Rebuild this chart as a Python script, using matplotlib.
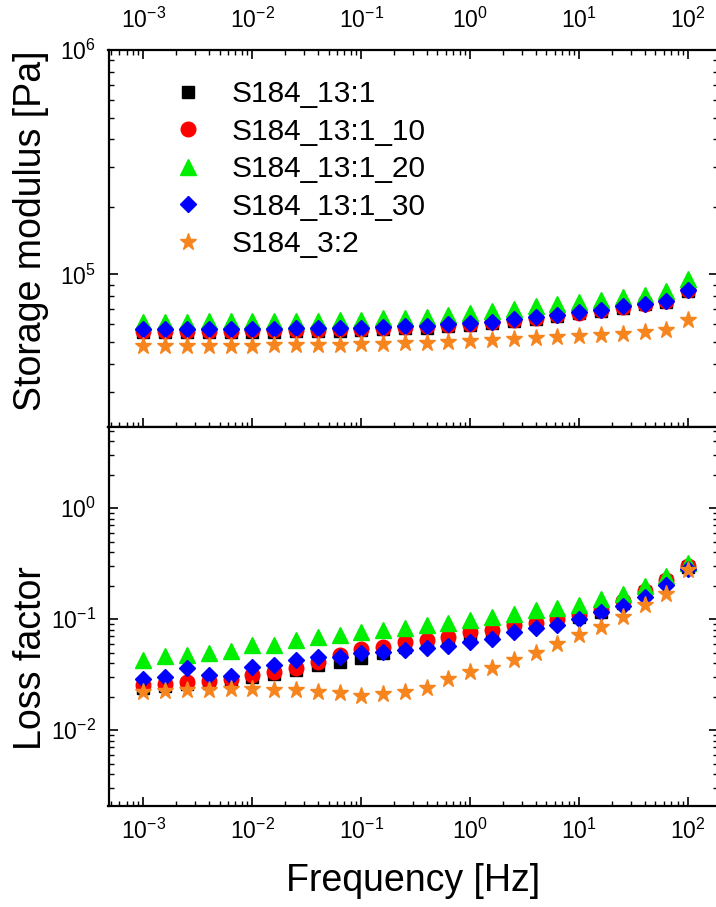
import matplotlib
matplotlib.use("Agg")
import matplotlib.pyplot as plt
from matplotlib.ticker import LogLocator, NullFormatter, LogFormatterSciNotation

plt.rcParams["font.family"] = ["Liberation Sans", "DejaVu Sans"]
plt.rcParams["mathtext.fontset"] = "custom"
plt.rcParams["mathtext.rm"] = "Liberation Sans"
plt.rcParams["mathtext.it"] = "Liberation Sans:italic"
plt.rcParams["mathtext.default"] = "regular"

# frequency sweep, 5 points per decade
freq = [0.001, 0.00158, 0.00251, 0.00398, 0.00631,
        0.01, 0.0158, 0.0251, 0.0398, 0.0631,
        0.1, 0.158, 0.251, 0.398, 0.631,
        1.0, 1.58, 2.51, 3.98, 6.31,
        10.0, 15.8, 25.1, 39.8, 63.1, 100.0]

labels = ["S184_13:1", "S184_13:1_10", "S184_13:1_20", "S184_13:1_30", "S184_3:2"]

# storage modulus [Pa]
g_13_1 = [5.52e4, 5.52e4, 5.53e4, 5.53e4, 5.54e4, 5.55e4, 5.56e4, 5.58e4, 5.60e4, 5.62e4,
          5.65e4, 5.70e4, 5.75e4, 5.80e4, 5.88e4, 5.95e4, 6.05e4, 6.20e4, 6.36e4, 6.52e4,
          6.70e4, 6.88e4, 7.12e4, 7.35e4, 7.55e4, 8.45e4]
g_13_1_10 = [5.60e4, 5.60e4, 5.61e4, 5.61e4, 5.62e4, 5.63e4, 5.64e4, 5.66e4, 5.68e4, 5.70e4,
             5.73e4, 5.78e4, 5.82e4, 5.87e4, 5.94e4, 6.01e4, 6.11e4, 6.26e4, 6.42e4, 6.58e4,
             6.76e4, 6.94e4, 7.18e4, 7.42e4, 7.62e4, 8.55e4]
g_13_1_20 = [6.16e4, 6.16e4, 6.16e4, 6.17e4, 6.17e4, 6.18e4, 6.19e4, 6.20e4, 6.22e4, 6.25e4,
             6.29e4, 6.38e4, 6.42e4, 6.49e4, 6.60e4, 6.72e4, 6.84e4, 7.03e4, 7.20e4, 7.38e4,
             7.53e4, 7.71e4, 7.90e4, 8.13e4, 8.41e4, 9.50e4]
g_13_1_30 = [5.70e4, 5.70e4, 5.70e4, 5.71e4, 5.71e4, 5.72e4, 5.73e4, 5.75e4, 5.76e4, 5.78e4,
             5.80e4, 5.85e4, 5.88e4, 5.92e4, 5.99e4, 6.05e4, 6.15e4, 6.30e4, 6.45e4, 6.60e4,
             6.78e4, 6.95e4, 7.20e4, 7.42e4, 7.60e4, 8.50e4]
g_3_2 = [4.80e4, 4.80e4, 4.80e4, 4.81e4, 4.81e4, 4.82e4, 4.83e4, 4.84e4, 4.85e4, 4.87e4,
         4.89e4, 4.91e4, 4.94e4, 4.97e4, 5.01e4, 5.05e4, 5.10e4, 5.15e4, 5.20e4, 5.25e4,
         5.31e4, 5.37e4, 5.45e4, 5.55e4, 5.68e4, 6.25e4]

# loss factor tan(delta)
tan_13_1 = [0.0240, 0.0250, 0.0258, 0.0265, 0.0280, 0.0300, 0.0320, 0.0350, 0.0390, 0.0413,
            0.0450, 0.0500, 0.0560, 0.0610, 0.0660, 0.0730, 0.0770, 0.0850, 0.0900, 0.0970,
            0.105, 0.117, 0.140, 0.175, 0.220, 0.295]
tan_13_1_10 = [0.0255, 0.0262, 0.0270, 0.0278, 0.0290, 0.0313, 0.0335, 0.0365, 0.0413, 0.0474,
               0.0537, 0.0563, 0.0617, 0.0647, 0.0693, 0.0769, 0.0796, 0.0880, 0.0930, 0.100,
               0.108, 0.120, 0.145, 0.180, 0.225, 0.300]
tan_13_1_20 = [0.0427, 0.0467, 0.0474, 0.0491, 0.0515, 0.0591, 0.0583, 0.0647, 0.0693, 0.0718,
               0.0769, 0.0796, 0.0835, 0.0883, 0.0927, 0.0980, 0.105, 0.112, 0.120, 0.125,
               0.135, 0.151, 0.170, 0.200, 0.245, 0.320]
tan_13_1_30 = [0.0288, 0.0302, 0.0360, 0.0313, 0.0309, 0.0372, 0.0390, 0.0433, 0.0458, 0.0458,
               0.0500, 0.0508, 0.0526, 0.0552, 0.0575, 0.0625, 0.0660, 0.0770, 0.0836, 0.0895,
               0.100, 0.115, 0.132, 0.160, 0.205, 0.285]
tan_3_2 = [0.0222, 0.0225, 0.0228, 0.0232, 0.0235, 0.0235, 0.0232, 0.0228, 0.0222, 0.0215,
           0.0205, 0.0210, 0.0220, 0.0240, 0.0290, 0.0335, 0.0365, 0.0430, 0.0500, 0.0600,
           0.0720, 0.0850, 0.105, 0.134, 0.170, 0.275]

storage = [g_13_1, g_13_1_10, g_13_1_20, g_13_1_30, g_3_2]
loss = [tan_13_1, tan_13_1_10, tan_13_1_20, tan_13_1_30, tan_3_2]

colors = ["#000000", "#ff0000", "#00ee00", "#0000ff", "#f7851e"]
markers = ["s", "o", "^", "D", "*"]
msizes = [8.5, 10.5, 11.5, 8.5, 12.5]

W, H = 716, 907
fig = plt.figure(figsize=(W / 100, H / 100), dpi=100)

# right spine sits just past the image edge
left, right = 108.5, 717.5
y_top, y_mid, y_bot = 50, 427, 806
ax1 = fig.add_axes([left / W, 1 - y_mid / H, (right - left) / W, (y_mid - y_top) / H])
ax2 = fig.add_axes([left / W, 1 - y_bot / H, (right - left) / W, (y_bot - y_mid) / H])

for vals, c, m, ms, lab in zip(storage, colors, markers, msizes, labels):
    ax1.plot(freq, vals, linestyle="none", marker=m, ms=ms, color=c, mec=c, label=lab)
for vals, c, m, ms in zip(loss, colors, markers, msizes):
    ax2.plot(freq, vals, linestyle="none", marker=m, ms=ms, color=c, mec=c)

xlim = (4.78e-4, 186)
for ax in (ax1, ax2):
    ax.set_xscale("log")
    ax.set_yscale("log")
    ax.set_xlim(*xlim)
    ax.xaxis.set_major_locator(LogLocator(base=10, numticks=20))
    ax.xaxis.set_minor_locator(LogLocator(base=10, subs=range(2, 10), numticks=20))
    ax.xaxis.set_minor_formatter(NullFormatter())
    ax.yaxis.set_major_locator(LogLocator(base=10, numticks=20))
    ax.yaxis.set_minor_locator(LogLocator(base=10, subs=range(2, 10), numticks=20))
    ax.yaxis.set_minor_formatter(NullFormatter())
    ax.yaxis.set_major_formatter(LogFormatterSciNotation())
    for s in ax.spines.values():
        s.set_linewidth(1.6)
    ax.tick_params(which="major", length=6.5, width=1.2, labelsize=16.5, pad=9)
    ax.tick_params(which="minor", length=3.6, width=1.0)

ax1.set_ylim(2.09e4, 1e6)
ax2.set_ylim(2.07e-3, 5.4)

ax1.tick_params(which="both", direction="in", top=True, bottom=True, left=True, right=True,
                labeltop=True, labelbottom=False)
ax1.tick_params(axis="x", which="major", pad=12)
ax2.tick_params(which="both", direction="in", top=False, bottom=True, left=True, right=True)

ax1.set_ylabel("Storage modulus [Pa]", fontsize=27)
ax2.set_ylabel("Loss factor", fontsize=27)
ax1.yaxis.set_label_coords(-0.097, 0.52, transform=ax1.transAxes)
ax2.yaxis.set_label_coords(-0.097, 0.39, transform=ax2.transAxes)
ax2.set_xlabel("Frequency [Hz]", fontsize=27, labelpad=14)

ax1.legend(loc="upper left", bbox_to_anchor=(166 / W, 1 - 80 / H), bbox_transform=fig.transFigure,
           frameon=False, fontsize=21.5, handlelength=1.5, handletextpad=0.7,
           labelspacing=0.32, borderpad=0, borderaxespad=0)

fig.savefig("out.png", dpi=100)
